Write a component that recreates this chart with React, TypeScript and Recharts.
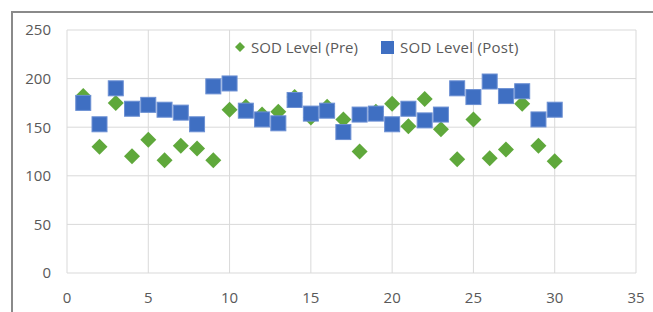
import React from "react";
import { ScatterChart, Scatter, XAxis, YAxis, CartesianGrid, Legend } from "recharts";

const subjects = [1, 2, 3, 4, 5, 6, 7, 8, 9, 10, 11, 12, 13, 14, 15, 16, 17, 18, 19, 20, 21, 22, 23, 24, 25, 26, 27, 28, 29, 30];
const preValues = [182, 130, 175, 120, 137, 116, 131, 128, 116, 168, 171, 163, 166, 181, 160, 171, 158, 125, 166, 174, 151, 179, 148, 117, 158, 118, 127, 174, 131, 115];
const postValues = [175, 153, 190, 169, 173, 168, 165, 153, 192, 195, 167, 158, 154, 178, 164, 167, 145, 163, 164, 153, 169, 157, 163, 190, 181, 197, 182, 187, 158, 168];
const xTicks = [0, 5, 10, 15, 20, 25, 30, 35];
const yTicks = [0, 50, 100, 150, 200, 250];
const preName = "SOD Level (Pre)";
const postName = "SOD Level (Post)";

const preData = subjects.map((x, i) => ({ x, y: preValues[i] }));
const postData = subjects.map((x, i) => ({ x, y: postValues[i] }));

const GREEN = "#5fa83b";
const BLUE = "#3f6fc2";
const TEXT = "#595959";
const FONT = "'Open Sans', sans-serif";

const Diamond = (props: any) => {
  const { cx, cy } = props;
  const h = 8;
  return (
    <path
      d={`M${cx},${cy - h} L${cx + h},${cy} L${cx},${cy + h} L${cx - h},${cy} Z`}
      fill={GREEN}
    />
  );
};

const Square = (props: any) => {
  const { cx, cy } = props;
  const h = 7.5;
  return (
    <rect x={cx - h} y={cy - h} width={2 * h} height={2 * h} fill={BLUE} stroke="#6b8fd3" strokeWidth={1} />
  );
};

const LegendContent = () => (
  <div style={{ display: "flex", alignItems: "center", fontFamily: FONT, fontSize: 15, color: TEXT, whiteSpace: "nowrap" }}>
    <svg width={12} height={12} style={{ marginRight: 5 }}>
      <path d="M6,1 L11,6 L6,11 L1,6 Z" fill={GREEN} />
    </svg>
    <span>{preName}</span>
    <svg width={15} height={15} style={{ marginLeft: 22, marginRight: 5 }}>
      <rect x={1} y={1} width={13} height={13} fill={BLUE} />
    </svg>
    <span style={{ letterSpacing: 0.3 }}>{postName}</span>
  </div>
);

export default function App() {
  return (
    <div style={{ position: "absolute", left: 0, top: 0, width: 653, height: 312, background: "#fff", overflow: "hidden" }}>
      <div
        style={{
          position: "absolute",
          left: 11,
          top: 11,
          width: 700,
          height: 400,
          borderLeft: "2px solid #8a8a8a",
          borderTop: "2px solid #8a8a8a",
          boxSizing: "border-box",
        }}
      />
      <ScatterChart width={653} height={312} margin={{ top: 30, right: 17, left: 0, bottom: 0 }} style={{ position: "absolute", left: 0, top: 0 }}>
        <CartesianGrid stroke="#d9d9d9" strokeWidth={1} />
        <XAxis
          type="number"
          dataKey="x"
          domain={[0, 35]}
          ticks={xTicks}
          interval={0}
          axisLine={false}
          tickLine={false}
          tickSize={0}
          tickMargin={19}
          height={39}
          tick={{ fill: TEXT, fontSize: 15, fontFamily: FONT }}
        />
        <YAxis
          type="number"
          dataKey="y"
          domain={[0, 250]}
          ticks={yTicks}
          interval={0}
          axisLine={false}
          tickLine={false}
          tickSize={0}
          tickMargin={16}
          width={67}
          tick={{ fill: TEXT, fontSize: 15, fontFamily: FONT }}
        />
        <Legend
          layout="horizontal"
          verticalAlign="middle"
          align="center"
          content={<LegendContent />}
          wrapperStyle={{ position: "absolute", left: 234, top: 37, width: "auto" }}
        />
        <Scatter name={preName} data={preData} shape={<Diamond />} isAnimationActive={false} />
        <Scatter name={postName} data={postData} shape={<Square />} isAnimationActive={false} />
      </ScatterChart>
    </div>
  );
}
